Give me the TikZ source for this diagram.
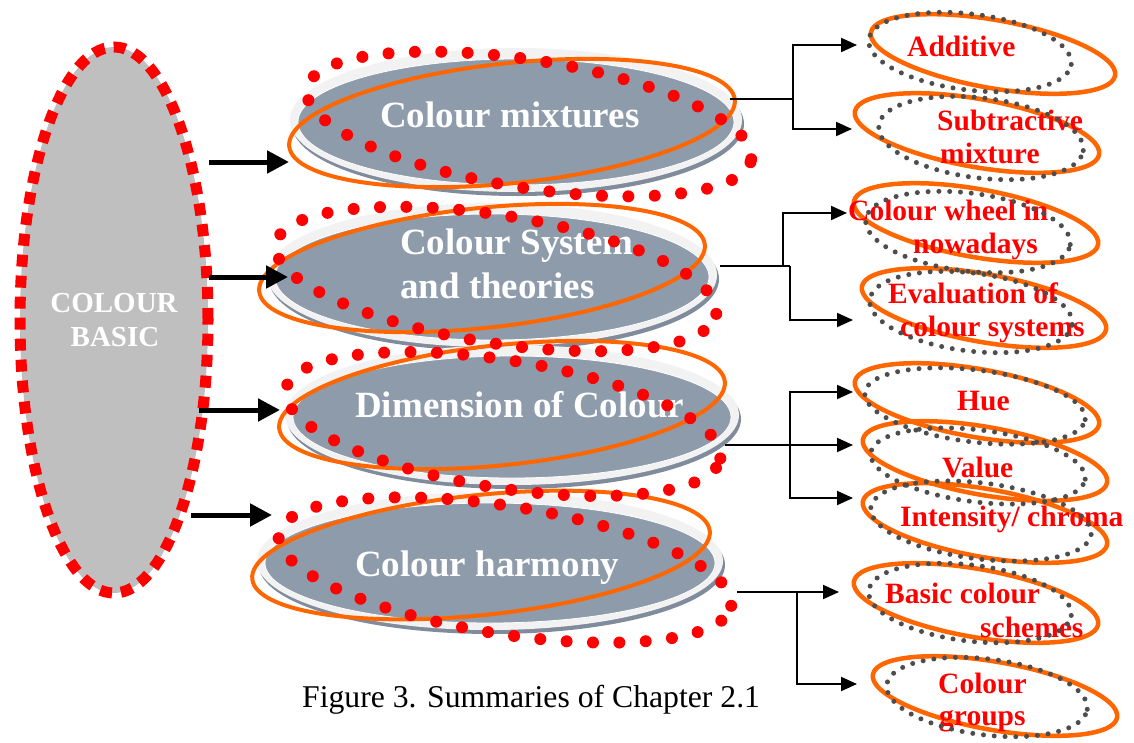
\documentclass[tikz,border=0pt]{standalone}
\usepackage{fontspec}
\setmainfont{Liberation Serif}
\usetikzlibrary{shapes.geometric, arrows.meta}

\definecolor{discfill}{RGB}{142,155,171}
\definecolor{discring}{RGB}{242,242,242}
\definecolor{discrim}{RGB}{128,140,156}
\definecolor{ringorange}{RGB}{255,102,0}
\definecolor{dotgray}{RGB}{77,77,77}
\definecolor{basicgray}{RGB}{191,191,191}

\begin{document}
\begin{tikzpicture}[x=1pt, y=-1pt,
  oval/.style={ellipse, inner sep=0pt, outer sep=0pt},
  ovalsize/.style 2 args={minimum width=#1pt, minimum height=#2pt},
  rim/.style={oval, fill=discrim},
  ring/.style={oval, fill=discring},
  face/.style={oval, fill=discfill, draw=white, line width=0.8pt},
  orangering/.style={oval, draw=ringorange, line width=4pt},
  reddots/.style={oval, draw=red, line width=12pt, line cap=round, dash pattern=on 0pt off 26.4pt},
  graydots/.style={oval, draw=dotgray, line width=5pt, line cap=round, dash pattern=on 0pt off 10.8pt},
  basictext/.style={font=\fontsize{29}{34}\selectfont\bfseries, text=white, inner sep=0pt, anchor=base},
  disctext/.style={font=\fontsize{37}{44}\selectfont\bfseries, text=white, inner sep=0pt, anchor=base west},
  subtext/.style={font=\fontsize{29.5}{33}\selectfont\bfseries, text=red, inner sep=0pt, anchor=base west},
  bigarrow/.style={line width=5pt, -{Triangle[length=22pt,width=22pt]}},
  link/.style={line width=2pt},
  linkarrow/.style={link, -{Triangle[length=16pt,width=14pt]}},
]
\useasboundingbox (0,0) rectangle (1134,742);
\fill[white] (0,0) rectangle (1134,742);

% central topic
\node[oval, ovalsize={188}{546}, fill=basicgray, draw=red, line width=11pt,
      dash pattern=on 12pt off 9pt] (basic) at (114,320) {};
\node[basictext] (basic-l1) at (114,312) {COLOUR};
\node[basictext] (basic-l2) at (115,346) {BASIC};

% discs for the four sub-topics
\node[rim,  ovalsize={452}{144}] (mix-rim)  at (518,124) {};
\node[ring, ovalsize={452}{144}] (mix)      at (516,120) {};
\node[face, ovalsize={436}{126}] (mix-face) at (516,122) {};

\node[rim,  ovalsize={450}{144}] (sys-rim)  at (494,279) {};
\node[ring, ovalsize={450}{144}] (sys)      at (492,275) {};
\node[face, ovalsize={434}{126}] (sys-face) at (492,277) {};

\node[rim,  ovalsize={454}{140}] (dim-rim)  at (514,419) {};
\node[ring, ovalsize={454}{140}] (dim)      at (512,415) {};
\node[face, ovalsize={438}{122}] (dim-face) at (512,417) {};

\node[rim,  ovalsize={466}{138}] (harm-rim)  at (492,565) {};
\node[ring, ovalsize={466}{138}] (harm)      at (490,561) {};
\node[face, ovalsize={450}{120}] (harm-face) at (490,563) {};

% orange outlines over the discs
\node[orangering, ovalsize={448}{120}, rotate=6] (mix-o)  at (512,123) {};
\node[orangering, ovalsize={448}{120}, rotate=6] (sys-o)  at (482,268) {};
\node[orangering, ovalsize={448}{120}, rotate=6] (dim-o)  at (502,405) {};
\node[orangering, ovalsize={460}{120}, rotate=6] (harm-o) at (481,555) {};

% disc labels
\node[disctext] (mix-t)   at (380,127) {Colour mixtures};
\node[disctext] (sys-t1)  at (400,254) {Colour System};
\node[disctext] (sys-t2)  at (400,298) {and theories};
\node[disctext] (dim-t)   at (355,417) {Dimension of Colour};
\node[disctext] (harm-t)  at (355,576) {Colour harmony};

% red dotted outlines
\node[reddots, ovalsize={450}{128}, rotate=-9] (mix-r)  at (529,124) {};
\node[reddots, ovalsize={446}{128}, rotate=-9] (sys-r)  at (496,279) {};
\node[reddots, ovalsize={440}{128}, rotate=-9] (dim-r)  at (503,424) {};
\node[reddots, ovalsize={458}{128}, rotate=-9] (harm-r) at (505,570) {};

% leaf topics: orange outlines
\node[orangering, line width=4.5pt, ovalsize={248}{68}, rotate=-10] (add-o)   at (993,54)  {};
\node[orangering, line width=4.5pt, ovalsize={248}{68}, rotate=-10] (sub-o)   at (977,133) {};
\node[orangering, line width=4.5pt, ovalsize={248}{68}, rotate=-10] (wheel-o) at (976,223) {};
\node[orangering, line width=4.5pt, ovalsize={248}{68}, rotate=-10] (eval-o)  at (984,308) {};
\node[orangering, line width=4.5pt, ovalsize={248}{68}, rotate=-10] (hue-o)   at (977,403) {};
\node[orangering, line width=4.5pt, ovalsize={248}{68}, rotate=-10] (value-o) at (985,461) {};
\node[orangering, line width=4.5pt, ovalsize={248}{68}, rotate=-10] (int-o)   at (985,523) {};
\node[orangering, line width=4.5pt, ovalsize={248}{68}, rotate=-10] (basic-o) at (976,603) {};
\node[orangering, line width=4.5pt, ovalsize={248}{68}, rotate=-10] (group-o) at (995,696) {};

% leaf labels
\node[subtext] (add-t)    at (907,56)  {Additive};
\node[subtext] (sub-t1)   at (937,130) {Subtractive};
\node[subtext] (sub-t2)   at (940,163) {mixture};
\node[subtext] (wheel-t1) at (848,220) {Colour wheel in};
\node[subtext] (wheel-t2) at (913,253) {nowadays};
\node[subtext] (eval-t1)  at (888,303) {Evaluation of};
\node[subtext] (eval-t2)  at (900,336) {colour systems};
\node[subtext] (hue-t)    at (957,410) {Hue};
\node[subtext] (value-t)  at (942,477) {Value};
\node[subtext] (int-t)    at (900,526) {Intensity/ chroma};
\node[subtext] (basic-t1) at (885,603) {Basic colour};
\node[subtext] (basic-t2) at (980,637) {schemes};
\node[subtext] (group-t1) at (938,693) {Colour};
\node[subtext] (group-t2) at (939,725) {groups};

% leaf topics: gray dotted outlines
\node[graydots, ovalsize={204}{76}, rotate=-7] (add-g)   at (970,52)  {};
\node[graydots, ovalsize={206}{80}, rotate=-7] (sub-g)   at (981,138) {};
\node[graydots, ovalsize={206}{78}, rotate=-7] (wheel-g) at (968,232) {};
\node[graydots, ovalsize={204}{78}, rotate=-7] (eval-g)  at (971,312) {};
\node[graydots, ovalsize={222}{72}, rotate=-7] (hue-g)   at (975,406) {};
\node[graydots, ovalsize={216}{72}, rotate=-7] (value-g) at (978,466) {};
\node[graydots, ovalsize={222}{76}, rotate=-7] (int-g)   at (981,521) {};
\node[graydots, ovalsize={204}{76}, rotate=-7] (basic-g) at (970,603) {};
\node[graydots, ovalsize={202}{76}, rotate=-7] (group-g) at (987,697) {};

% caption
\node[font=\fontsize{31.7}{36}\selectfont, inner sep=0pt, anchor=base west] (caption)
  at (302,707) {Figure 3. Summaries of Chapter 2.1};

% thick arrows from the central topic
\coordinate (basic-a1) at (209,162);  \coordinate (mix-in)  at (289,162);
\coordinate (basic-a2) at (209,277);  \coordinate (sys-in)  at (288,277);
\coordinate (basic-a3) at (199,410);  \coordinate (dim-in)  at (280,410);
\coordinate (basic-a4) at (191,515);  \coordinate (harm-in) at (272,515);
\draw[bigarrow] (basic-a1) -- (mix-in);
\draw[bigarrow] (basic-a2) -- (sys-in);
\draw[bigarrow] (basic-a3) -- (dim-in);
\draw[bigarrow] (basic-a4) -- (harm-in);

% elbow connectors to the leaf topics
\coordinate (mix-out)  at (730,99);  \coordinate (mix-fork) at (793,99);
\coordinate (add-in)   at (857,45);  \coordinate (sub-in)   at (852,129);
\draw[link] (mix-out) -- (mix-fork);
\draw[linkarrow] (mix-fork) |- (add-in);
\draw[linkarrow] (mix-fork) |- (sub-in);

\coordinate (sys-out)    at (720,266);
\coordinate (sys-fork-a) at (783,266); \coordinate (sys-fork-b) at (790,266);
\coordinate (wheel-in)   at (847,213); \coordinate (eval-in)    at (853,320);
\draw[link] (sys-out) -- (sys-fork-b);
\draw[linkarrow] (sys-fork-a) |- (wheel-in);
\draw[linkarrow] (sys-fork-b) |- (eval-in);

\coordinate (dim-out)  at (725,445); \coordinate (dim-fork) at (790,445);
\coordinate (hue-in)   at (853,392); \coordinate (value-in) at (853,445);
\coordinate (int-in)   at (853,498);
\draw[linkarrow] (dim-out) -- (value-in);
\draw[linkarrow] (dim-fork) |- (hue-in);
\draw[linkarrow] (dim-fork) |- (int-in);

\coordinate (harm-out)  at (737,592); \coordinate (harm-fork) at (797,592);
\coordinate (basic-in)  at (839,592); \coordinate (group-in)  at (857,684);
\draw[linkarrow] (harm-out) -- (basic-in);
\draw[linkarrow] (harm-fork) |- (group-in);
\end{tikzpicture}
\end{document}
